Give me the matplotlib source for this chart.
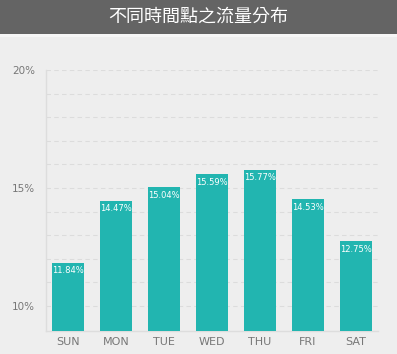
import matplotlib.pyplot as plt
from matplotlib.patches import Rectangle

days = ['SUN', 'MON', 'TUE', 'WED', 'THU', 'FRI', 'SAT']
share = [11.84, 14.47, 15.04, 15.59, 15.77, 14.53, 12.75]
yticks = [10, 15, 20]
title = '不同時間點之流量分布'

bg = '#eeeeee'
bar_color = '#22b5b0'
text_gray = '#777777'

fig = plt.figure(figsize=(3.97, 3.54), dpi=100, facecolor=bg)

# title band
fig.patches.append(Rectangle((0, 354 - 34), 397, 34, transform=None,
                             facecolor='#646464', edgecolor='none', zorder=0))
fig.patches.append(Rectangle((0, 354 - 37), 397, 3, transform=None,
                             facecolor='#f6f6f6', edgecolor='none', zorder=0))
fig.text(0.5, 1 - 17 / 354, title, ha='center', va='center', color='white',
         fontsize=13, family=['Noto Sans CJK TC', 'DejaVu Sans'])

ax = fig.add_axes([46 / 397, 23 / 354, 332 / 397, 261 / 354])
ax.set_facecolor(bg)

x = range(len(days))
ax.bar(x, share, width=0.65, bottom=0, color=bar_color, zorder=3)

for i, v in enumerate(share):
    ax.text(i, v - 0.15, f'{v:.2f}%', ha='center', va='top', color='white',
            fontsize=6, zorder=4)

ax.set_ylim(8.94, 20)
ax.set_xlim(-0.46, len(days) - 0.54)

for g in range(10, 21):
    ax.axhline(g, color='#dcdcdc', lw=0.8, ls=(0, (4, 3)), zorder=1)

ax.set_yticks(yticks)
ax.set_yticklabels([f'{t}%' for t in yticks])
ax.set_xticks(list(x))
ax.set_xticklabels(days)
ax.tick_params(axis='both', length=0, colors=text_gray, labelsize=8)
ax.tick_params(axis='y', pad=8, labelsize=7.5)
ax.tick_params(axis='x', pad=4)

for s in ['top', 'right']:
    ax.spines[s].set_visible(False)
ax.spines['left'].set_color('#dddddd')
ax.spines['bottom'].set_color('#dddddd')
ax.spines['left'].set_linewidth(1)
ax.spines['bottom'].set_linewidth(1)

fig.savefig('out.png', dpi=100, facecolor=bg)
